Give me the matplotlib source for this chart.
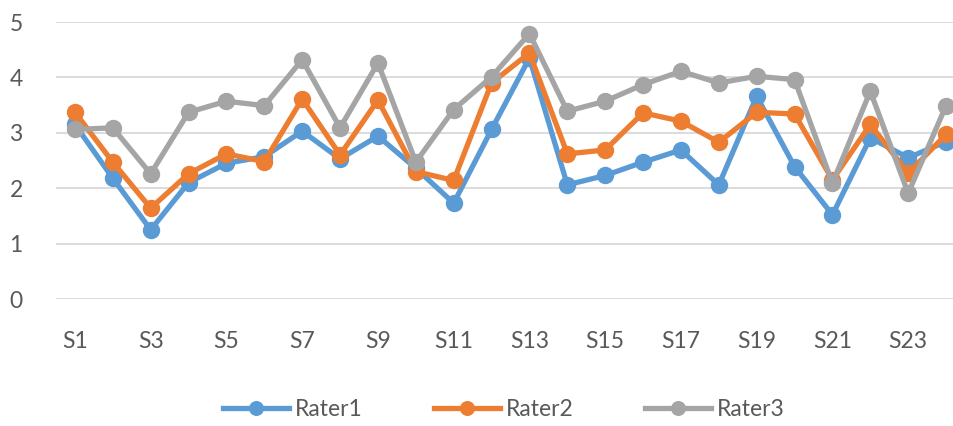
import matplotlib
matplotlib.use("Agg")
import matplotlib.pyplot as plt

categories = [f"S{i}" for i in range(1, 25)]
rater1 = [3.15, 2.18, 1.25, 2.10, 2.45, 2.57, 3.03, 2.53, 2.94, 2.36, 1.73, 3.06,
          4.35, 2.06, 2.23, 2.47, 2.69, 2.06, 3.66, 2.39, 1.52, 2.91, 2.55, 2.84]
rater2 = [3.37, 2.47, 1.64, 2.26, 2.62, 2.48, 3.61, 2.60, 3.59, 2.30, 2.14, 3.90,
          4.44, 2.62, 2.69, 3.36, 3.21, 2.83, 3.37, 3.34, 2.15, 3.15, 2.27, 2.97]
rater3 = [3.06, 3.09, 2.26, 3.37, 3.57, 3.49, 4.32, 3.09, 4.26, 2.47, 3.42, 4.01,
          4.79, 3.39, 3.57, 3.87, 4.11, 3.90, 4.02, 3.96, 2.09, 3.75, 1.91, 3.49]
series_names = ["Rater1", "Rater2", "Rater3"]
colors = ["#5B9BD5", "#ED7D31", "#A5A5A5"]
yticks = [0, 1, 2, 3, 4, 5]

plt.rcParams['font.family'] = ['Lato', 'DejaVu Sans']
fs = 16.5

fig = plt.figure(figsize=(9.54, 4.26), dpi=100)
W, H = 954, 426
ax = fig.add_axes([56 / W, 1 - 299 / H, (965 - 56) / W, (299 - 22) / H])

x = list(range(len(categories)))
handles = []
for vals, name, c in zip([rater1, rater2, rater3], series_names, colors):
    h, = ax.plot(x, vals, color=c, lw=3.8, marker='o', ms=11.5, label=name,
                 solid_joinstyle='round', clip_on=False)
    handles.append(h)

ax.set_xlim(-0.5, len(categories) - 0.5)
ax.set_ylim(0, 5)
ax.set_yticks(yticks)
ax.set_yticklabels([str(t) for t in yticks])
ax.set_xticks(x[::2])
ax.set_xticklabels(categories[::2])
ax.grid(axis='y', color='#D9D9D9', lw=1.3)
ax.set_axisbelow(True)
for s in ax.spines.values():
    s.set_visible(False)
ax.tick_params(axis='both', length=0, colors='#595959', labelsize=fs)
ax.tick_params(axis='y', pad=24)
ax.tick_params(axis='x', pad=23)

fig.legend(handles=handles, labels=series_names, loc='center',
           bbox_to_anchor=(0.528, 1 - 410 / H), ncol=3, frameon=False,
           fontsize=fs, labelcolor='#595959', handlelength=2.9,
           columnspacing=3.1, handletextpad=0.25, markerscale=0.85)

fig.savefig("out.png", dpi=100)
